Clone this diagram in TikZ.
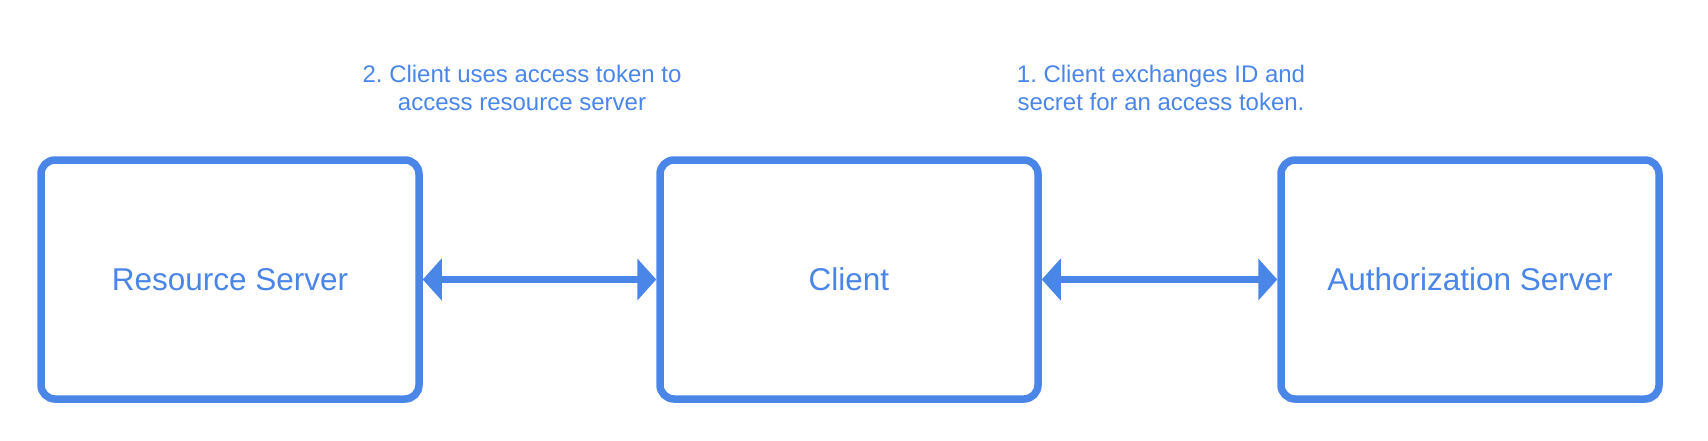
\documentclass[tikz,border=0pt]{standalone}
\usepackage{fontspec}
\setmainfont{Liberation Sans}
\usetikzlibrary{arrows.meta}
\definecolor{gblue}{RGB}{74,134,232}
\frenchspacing
\tikzset{
  box/.style={draw=gblue, line width=7.5pt, rounded corners=14pt, fill=white,
    minimum width=378pt, minimum height=239pt, text=gblue,
    font=\fontsize{31.5}{36}\selectfont},
  lbl/.style={text=gblue, align=center, anchor=base, inner sep=0pt,
    font=\fontsize{24}{28}\selectfont},
  conn/.style={draw=gblue, line width=7.5pt,
    {Triangle[length=19pt,width=41pt]}-{Triangle[length=19pt,width=41pt]}}
}
\begin{document}
\begin{tikzpicture}[x=1pt,y=-1pt]
\useasboundingbox (0,0) rectangle (1708,440);
\node[box] (rs) at (230,279.5) {Resource Server};
\node[box] (cl) at (849,279.5) {Client};
\node[box] (as) at (1470,279.5) {Authorization Server};
\draw[conn] (rs.east) -- (cl.west);
\draw[conn] (cl.east) -- (as.west);
\node[lbl] (l2) at (522,110) {2. Client uses access token to\\access resource server};
\node[lbl] (l1) at (1161,110.5) {1. Client exchanges ID and\\secret for an access token.};
\end{tikzpicture}
\end{document}
